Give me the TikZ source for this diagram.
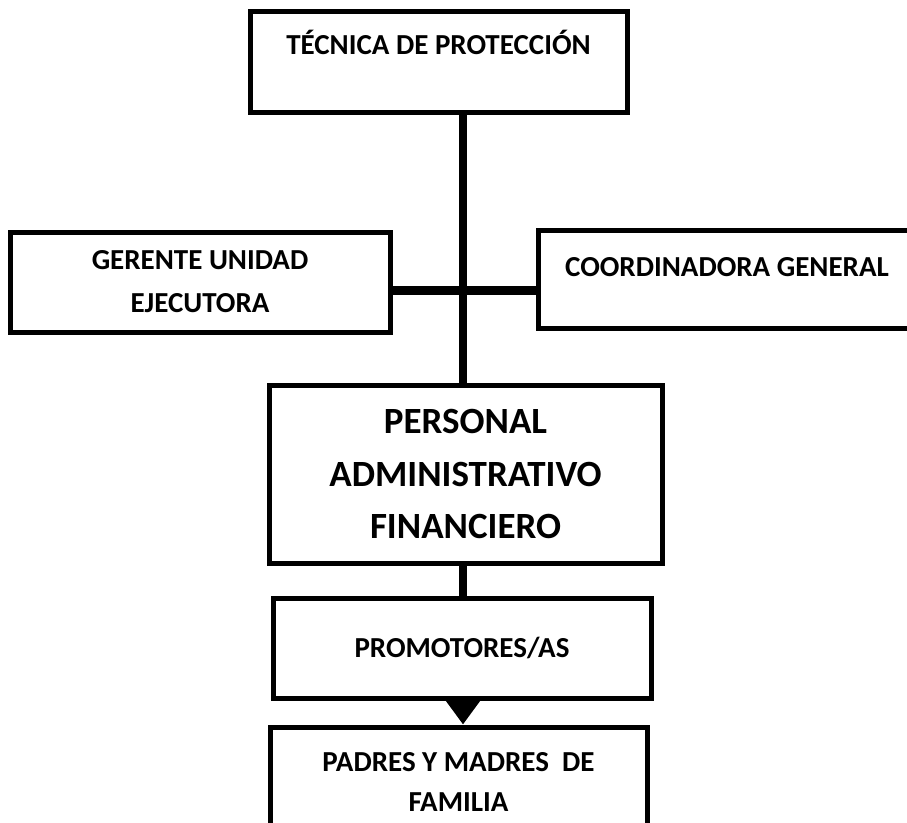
\documentclass[tikz,border=0pt]{standalone}
\usepackage{fontspec}
\setmainfont{Carlito}
\usepackage{tikz}
\usetikzlibrary{arrows.meta, positioning}

\begin{document}
\begin{tikzpicture}[
  x=1pt, y=-1pt,
  orgbox/.style={draw, line width=5pt, inner sep=0pt, align=center, font=\fontsize{29}{43}\selectfont\bfseries},
  conn/.style={line width=8pt},
  >={Triangle[width=36pt,length=26pt]}
]
\useasboundingbox (0,0) rectangle (907,822);

% Spine of the chart
\coordinate (spine) at (463,0);
\coordinate (hub) at (463,290);

% Boxes
\node[orgbox, minimum width=377pt, text height=43pt, text depth=58pt] (tec) at (438.5,61.5) {TÉCNICA DE PROTECCIÓN};
\node[orgbox, minimum width=380pt, minimum height=100pt] (ger) at (200,282) {GERENTE UNIDAD\\EJECUTORA};
\node[orgbox, minimum width=378pt, text height=46pt, text depth=52pt] (coo) at (727,279) {COORDINADORA GENERAL};
\node[orgbox, minimum width=393pt, minimum height=178pt, font=\fontsize{37}{52.5}\selectfont\bfseries] (per) at (465.5,474) {PERSONAL\\ADMINISTRATIVO\\FINANCIERO};
\node[orgbox, minimum width=378pt, minimum height=100pt] (pro) at (462,648) {PROMOTORES/AS};
\node[orgbox, minimum width=377pt, minimum height=110pt, font=\fontsize{29}{40}\selectfont\bfseries] (pad) at (458.5,782) {PADRES Y MADRES~~DE\\FAMILIA};

% Connectors
\draw[conn] (tec.south -| spine) -- (per.north -| spine);
\draw[conn, line width=9pt] (ger.east |- hub) -- (coo.west |- hub);
\draw[conn] (per.south -| spine) -- (pro.north -| spine);
\draw[conn, ->] (pro.south -| spine) -- (pad.north -| spine);
\end{tikzpicture}
\end{document}
